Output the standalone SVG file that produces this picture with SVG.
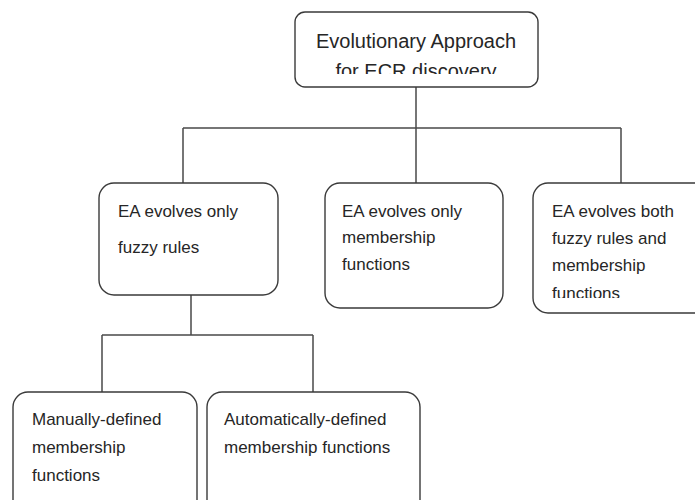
<svg xmlns="http://www.w3.org/2000/svg" width="695" height="500" viewBox="0 0 695 500">
  <style>
    .box { fill: #ffffff; stroke: #3a3a3a; stroke-width: 1.4; }
    .lbl { font-family: "Liberation Sans", Arial, sans-serif; font-size: 17px; fill: #262626; }
    .title { font-family: "Liberation Sans", Arial, sans-serif; font-size: 20px; fill: #262626; text-anchor: middle; }
    .conn { fill: none; stroke: #4a4a4a; stroke-width: 1.5; }
  </style>
  <defs>
    <clipPath id="clipTop"><rect x="295" y="12" width="243" height="62"/></clipPath>
    <clipPath id="clipBoth"><rect x="533" y="183" width="170" height="115"/></clipPath>
  </defs>
  <rect width="695" height="500" fill="#ffffff"/>
  <g id="connectors">
    <path class="conn" d="M416,87 V128 M183,128 H621 M183,128 V183 M416,128 V183 M621,128 V183"/>
    <path class="conn" d="M191,295 V335 M102,335 H313 M102,335 V392 M313,335 V392"/>
  </g>
  <g id="root">
    <rect class="box" x="295" y="12" width="243" height="75" rx="10"/>
    <g clip-path="url(#clipTop)">
      <text class="title" x="416" y="48">Evolutionary Approach</text>
      <text class="title" x="416" y="78">for ECR discovery</text>
    </g>
  </g>
  <g id="rules-only">
    <rect class="box" x="99" y="183" width="179" height="112" rx="15"/>
    <text class="lbl" x="118" y="217">EA evolves only</text>
    <text class="lbl" x="118" y="253">fuzzy rules</text>
  </g>
  <g id="mf-only">
    <rect class="box" x="325" y="183" width="178" height="125" rx="15"/>
    <text class="lbl" x="342" y="217">EA evolves only</text>
    <text class="lbl" x="342" y="243">membership</text>
    <text class="lbl" x="342" y="270">functions</text>
  </g>
  <g id="both">
    <rect class="box" x="533" y="183" width="180" height="130" rx="15"/>
    <g clip-path="url(#clipBoth)">
      <text class="lbl" x="552" y="217">EA evolves both</text>
      <text class="lbl" x="552" y="244">fuzzy rules and</text>
      <text class="lbl" x="552" y="271">membership</text>
      <text class="lbl" x="552" y="299">functions</text>
    </g>
  </g>
  <g id="manual">
    <rect class="box" x="13" y="392" width="184" height="125" rx="15"/>
    <text class="lbl" x="32" y="425">Manually-defined</text>
    <text class="lbl" x="32" y="453">membership</text>
    <text class="lbl" x="32" y="481">functions</text>
  </g>
  <g id="automatic">
    <rect class="box" x="207" y="392" width="213" height="125" rx="15"/>
    <text class="lbl" x="224" y="425">Automatically-defined</text>
    <text class="lbl" x="224" y="453">membership functions</text>
  </g>
</svg>
